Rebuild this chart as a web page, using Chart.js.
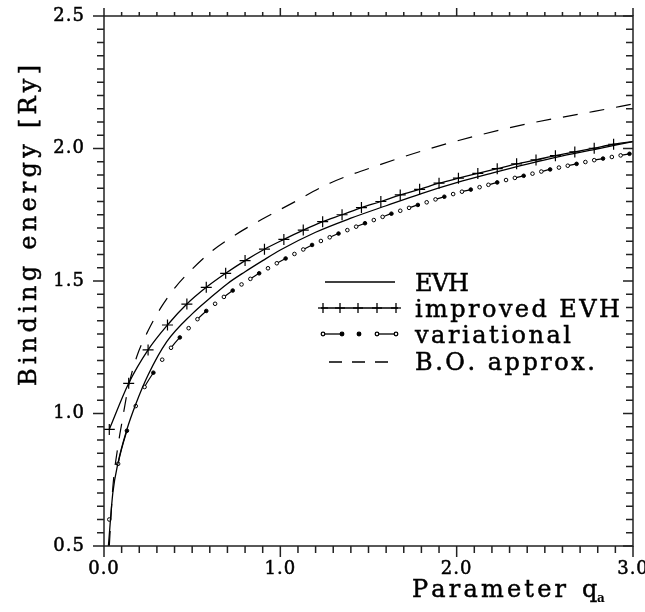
<!DOCTYPE html>
<html><head><meta charset="utf-8">
<script src="https://cdn.jsdelivr.net/npm/chart.js@4.4.1/dist/chart.umd.min.js"></script>
<style>html,body{margin:0;padding:0;background:#fff}</style>
</head><body>
<canvas id="c" width="645" height="612" style="width:645px;height:612px;display:block"></canvas>
<script>
// ---- data ----
const evhX = [0.025,0.05,0.08,0.13,0.18,0.25,0.356,0.5,0.6,0.7,0.8,0.9,1.0,1.2,1.4,1.6,1.8,2.0,2.2,2.4,2.6,2.8,3.0];
const evhY = [0.50,0.70,0.815,0.94,1.035,1.145,1.271,1.376,1.435,1.49,1.535,1.577,1.617,1.684,1.737,1.784,1.830,1.871,1.907,1.941,1.972,1.999,2.026];

const impX = [0.03,0.14,0.25,0.36,0.47,0.58,0.69,0.80,0.91,1.02,1.13,1.24,1.35,1.46,1.57,1.68,1.79,1.90,2.01,2.12,2.23,2.34,2.45,2.56,2.67,2.78,2.89,3.00];
const impY = [0.94,1.114,1.24,1.334,1.413,1.476,1.529,1.577,1.62,1.657,1.692,1.724,1.75,1.777,1.80,1.825,1.846,1.869,1.888,1.906,1.924,1.942,1.957,1.973,1.987,2.001,2.016,2.026];

const varX = [0.03,0.08,0.13,0.18,0.23,0.28,0.33,0.38,0.43,0.48,0.53,0.58,0.63,0.68,0.73,0.78,0.83,0.88,0.93,0.98,
              1.03,1.08,1.13,1.18,1.23,1.28,1.33,1.38,1.43,1.48,1.53,1.58,1.63,1.68,1.73,1.78,1.83,1.88,1.93,1.98,
              2.03,2.08,2.13,2.18,2.23,2.28,2.33,2.38,2.43,2.48,2.53,2.58,2.63,2.68,2.73,2.78,2.83,2.88,2.93,2.98];
const varY = [0.60,0.81,0.935,1.028,1.10,1.154,1.203,1.248,1.287,1.322,1.356,1.387,1.414,1.440,1.464,1.487,1.508,1.529,1.548,1.567,
              1.585,1.602,1.619,1.636,1.651,1.665,1.679,1.692,1.705,1.718,1.730,1.742,1.754,1.765,1.776,1.787,1.797,1.808,1.818,1.828,
              1.837,1.845,1.854,1.863,1.872,1.881,1.889,1.897,1.905,1.913,1.921,1.928,1.935,1.942,1.949,1.956,1.962,1.968,1.974,1.980];

const boX = [0.03,0.05,0.08,0.1,0.138,0.186,0.252,0.328,0.403,0.5,0.61,0.735,0.896,1.057,1.284,1.57,1.85,2.125,2.4,2.78,3.0];
const boY = [0.50,0.72,0.88,0.96,1.10,1.215,1.315,1.405,1.475,1.545,1.612,1.67,1.733,1.79,1.87,1.94,2.0,2.05,2.093,2.14,2.168];

const seriesNames = ['EVH','improved EVH','variational','B.O. approx.'];
const xTickValues = [0,1,2,3];
const yTickValues = [0.5,1.0,1.5,2.0,2.5];
const xTitle = 'Parameter';
const xTitleSub = 'a';
const yTitle = 'Binding energy [Ry]';

// ---- helpers ----
const pts = (xs, ys) => xs.map((x, i) => ({x, y: ys[i]}));
const FONT = "'DejaVu Serif', 'Liberation Serif', serif";

function drawSpaced(ctx, text, x, y, width) {
  const chars = [...text];
  const ws = chars.map(c => ctx.measureText(c).width);
  const sum = ws.reduce((a, b) => a + b, 0);
  const gap = chars.length > 1 ? (width - sum) / (chars.length - 1) : 0;
  let cx = x;
  chars.forEach((c, i) => { ctx.fillText(c, cx, y); ctx.strokeText(c, cx, y); cx += ws[i] + gap; });
}

const framePlugin = {
  id: 'frame',
  beforeDraw(chart) {
    const ctx = chart.ctx;
    if ('letterSpacing' in ctx) ctx.letterSpacing = '1px';
  },
  afterDraw(chart) {
    const ctx = chart.ctx, a = chart.chartArea;
    const xs = chart.scales.x, ys = chart.scales.y;
    ctx.save();
    if ('letterSpacing' in ctx) ctx.letterSpacing = '0px';
    ctx.strokeStyle = '#222'; ctx.fillStyle = '#000'; ctx.lineWidth = 1.5;
    ctx.strokeRect(a.left, a.top, a.right - a.left, a.bottom - a.top);
    ctx.beginPath();
    for (let i = 0; i <= 30; i++) {
      const px = xs.getPixelForValue(i / 10);
      const major = i % 10 === 0;
      ctx.moveTo(px, a.bottom); ctx.lineTo(px, a.bottom + (major ? 11 : 7));
      ctx.moveTo(px, a.top); ctx.lineTo(px, a.top - (major ? 8 : 4));
    }
    for (let i = 0; i <= 40; i++) {
      const py = ys.getPixelForValue(0.5 + i * 0.05);
      const major = i % 10 === 0;
      ctx.moveTo(a.left, py); ctx.lineTo(a.left - (major ? 11 : 7), py);
      ctx.moveTo(a.right, py); ctx.lineTo(a.right - (major ? 10 : 7), py);
    }
    ctx.stroke();

    // axis titles
    ctx.textBaseline = 'alphabetic'; ctx.textAlign = 'left';
    ctx.strokeStyle = '#000'; ctx.lineWidth = 0.5;
    ctx.font = '24px ' + FONT;
    drawSpaced(ctx, xTitle, 412, 597, 154);
    ctx.fillText('q', 582, 597); ctx.strokeText('q', 582, 597);
    ctx.font = 'bold 12px ' + FONT;
    ctx.fillText(xTitleSub, 597, 602);
    ctx.font = '24px ' + FONT;
    ctx.save();
    ctx.translate(36, 386); ctx.rotate(-Math.PI / 2);
    drawSpaced(ctx, yTitle, 0, 0, 321);
    ctx.restore();

    // legend
    ctx.lineWidth = 1.3; ctx.strokeStyle = '#000';
    const line = (x1, y1, x2, y2) => { ctx.beginPath(); ctx.moveTo(x1, y1); ctx.lineTo(x2, y2); ctx.stroke(); };
    line(325, 282, 395, 282);
    line(321, 308, 398, 308);
    [323, 340, 358, 377, 396].forEach(x => { line(x, 303, x, 313); line(x - 5, 308, x + 5, 308); });
    line(323, 334, 342, 334); line(377, 334, 396, 334); line(357, 334, 361, 334);
    [[323, false], [342, true], [359, true], [377, false], [396, false]].forEach(([x, f]) => {
      ctx.beginPath(); ctx.arc(x, 334, 1.8, 0, Math.PI * 2);
      ctx.fillStyle = f ? '#000' : '#fff'; ctx.fill(); ctx.stroke();
    });
    ctx.fillStyle = '#000';
    ctx.setLineDash([13, 10]); line(329, 362, 392, 362); ctx.setLineDash([]);
    ctx.font = '24px ' + FONT; ctx.lineWidth = 0.5;
    drawSpaced(ctx, seriesNames[0], 415, 291, 54);
    drawSpaced(ctx, seriesNames[1], 415, 317, 205);
    drawSpaced(ctx, seriesNames[2], 415, 343, 156);
    drawSpaced(ctx, seriesNames[3], 415, 370, 180);
    ctx.restore();
  }
};

const impRadius = impX.map((x, i) => i === impX.length - 1 ? 0 : 5.5);

new Chart(document.getElementById('c'), {
  type: 'line',
  data: {
    datasets: [
      { label: seriesNames[0], data: pts(evhX, evhY), borderColor: '#000', borderWidth: 1.3,
        pointRadius: 0, cubicInterpolationMode: 'monotone' },
      { label: seriesNames[1], data: pts(impX, impY), borderColor: '#000', borderWidth: 1.3,
        pointStyle: 'cross', pointRadius: impRadius, pointBorderColor: '#000', pointBorderWidth: 1.2,
        cubicInterpolationMode: 'monotone' },
      { label: seriesNames[2], data: pts(varX, varY), borderColor: '#000', borderWidth: 1.2,
        pointStyle: 'circle', pointRadius: 1.8, pointBorderWidth: 1, pointBorderColor: '#000',
        pointBackgroundColor: varX.map((x, i) => i % 3 === 2 ? '#000' : '#fff'),
        segment: { borderColor: c => (c.p0DataIndex % 3 === 1) ? '#000' : 'rgba(0,0,0,0)' },
        cubicInterpolationMode: 'monotone' },
      { label: seriesNames[3], data: pts(boX, boY), borderColor: '#000', borderWidth: 1.2,
        borderDash: [15, 12], pointRadius: 0, cubicInterpolationMode: 'monotone' }
    ]
  },
  options: {
    responsive: false, animation: false, devicePixelRatio: 1, events: [],
    layout: { padding: { top: 16, right: 12, left: 0, bottom: 0 } },
    plugins: { legend: { display: false }, tooltip: { enabled: false } },
    scales: {
      x: { type: 'linear', min: 0, max: 3,
        afterBuildTicks: s => { s.ticks = xTickValues.map(v => ({value: v})); },
        ticks: { callback: v => Number(v).toFixed(1), color: '#000', padding: 13, maxRotation: 0,
          textStrokeColor: '#000', textStrokeWidth: 0.5,
          font: { family: FONT, size: 18 } },
        grid: { display: false, drawTicks: false }, border: { display: false },
        afterFit: s => { s.height = 66; s.paddingRight = 0; s.paddingLeft = 0; } },
      y: { type: 'linear', min: 0.5, max: 2.5,
        afterBuildTicks: s => { s.ticks = yTickValues.map(v => ({value: v})); },
        ticks: { callback: v => Number(v).toFixed(1), color: '#000', padding: 19,
          textStrokeColor: '#000', textStrokeWidth: 0.5,
          font: { family: FONT, size: 18 } },
        grid: { display: false, drawTicks: false }, border: { display: false },
        afterFit: s => { s.width = 104; s.paddingTop = 0; s.paddingBottom = 0; } }
    }
  },
  plugins: [framePlugin]
});
</script>
</body></html>
